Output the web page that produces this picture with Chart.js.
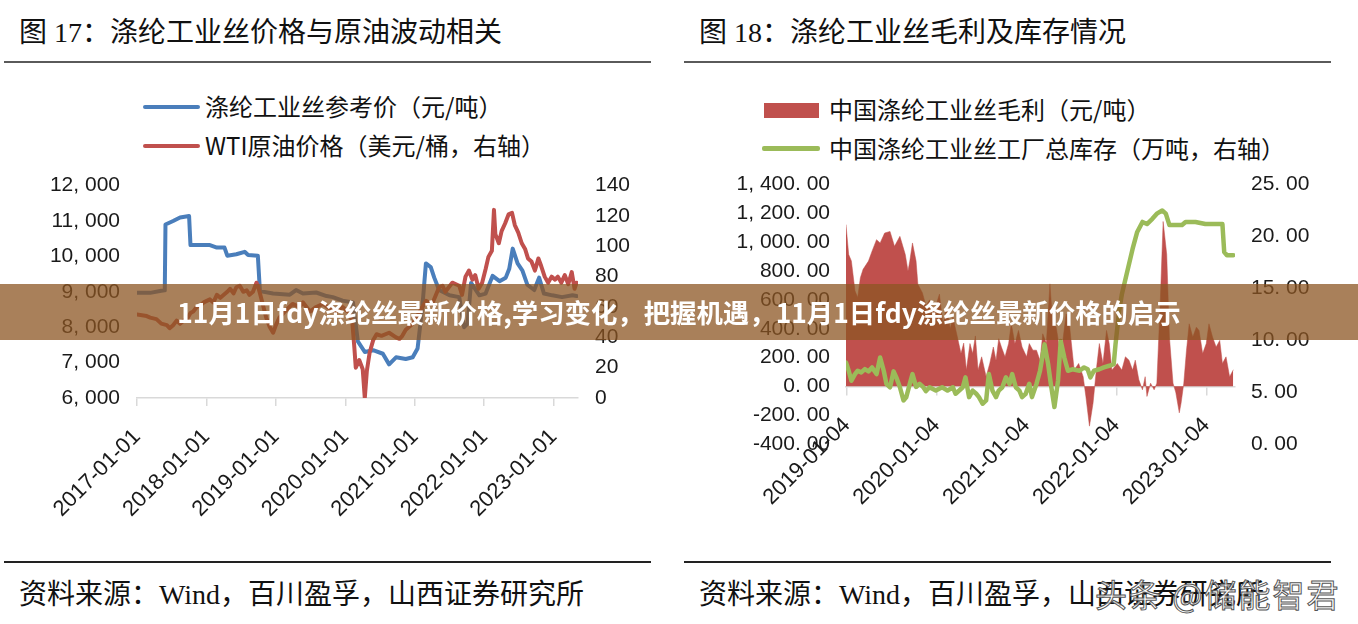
<!DOCTYPE html>
<html lang="zh-CN">
<head>
<meta charset="utf-8">
<title>涤纶工业丝价格与库存</title>
<script src="https://cdn.jsdelivr.net/npm/chart.js"></script>
<style>
    html, body { margin: 0; padding: 0; background: #fff; }
    body { position: relative; width: 1358px; height: 624px; overflow: hidden;
           font-family: "Liberation Serif", "Noto Sans CJK SC", serif; color: #111; }
    .abs { position: absolute; white-space: nowrap; }
    .title { font-size: 28px; line-height: 28px; top: 19px; }
    .rule { height: 2px; background: #5a5a5a; }
    .rule.bottom { background: #222; }
    .legend { font-family: "Noto Sans CJK SC", sans-serif; font-size: 24px; line-height: 24px; color: #111; }
    .footer { font-size: 28px; line-height: 28px; top: 581px; }
    canvas { position: absolute; }
    .banner { left: 0; top: 284px; width: 1358px; height: 56px; background: rgba(140, 85, 35, 0.75);
              color: #fff; text-align: center; line-height: 56px;
              font-family: "Noto Sans CJK SC", sans-serif; font-weight: 700; font-size: 26.4px; }
    .wm { left: 1095px; top: 577px; font-family: "Noto Sans CJK SC", sans-serif; font-size: 32px; line-height: 32px;
          letter-spacing: 2px; color: rgba(255, 255, 255, 0.8); -webkit-text-stroke: 1px #555; }
</style>
</head>
<body>

<!-- left panel -->
<div class="abs title" style="left:19px;">图 17：涤纶工业丝价格与原油波动相关</div>
<div class="abs rule" style="left:4px; top:61px; width:647px;"></div>
<div class="abs" style="left:143px; top:105px; width:57px; height:4px; background:#4A7EBB; border-radius:2px;"></div>
<div class="abs legend" style="left:205px; top:94px;">涤纶工业丝参考价（元/吨）</div>
<div class="abs" style="left:143px; top:144px; width:57px; height:4px; background:#C0504D; border-radius:2px;"></div>
<div class="abs legend" style="left:205px; top:133px;">WTI原油价格（美元/桶，右轴）</div>
<canvas id="price-chart" width="620" height="404" style="left:30px; top:156px;"></canvas>
<div class="abs rule bottom" style="left:4px; top:561px; width:647px;"></div>
<div class="abs footer" style="left:19px;">资料来源：Wind，百川盈孚，山西证券研究所</div>

<!-- right panel -->
<div class="abs title" style="left:699px;">图 18：涤纶工业丝毛利及库存情况</div>
<div class="abs rule" style="left:684px; top:61px; width:647px;"></div>
<div class="abs" style="left:764px; top:103px; width:55px; height:15px; background:#C0504D;"></div>
<div class="abs legend" style="left:829px; top:97px;">中国涤纶工业丝毛利（元/吨）</div>
<div class="abs" style="left:762px; top:146px; width:58px; height:5px; background:#9BBB59; border-radius:2px;"></div>
<div class="abs legend" style="left:829px; top:136px;">中国涤纶工业丝工厂总库存（万吨，右轴）</div>
<canvas id="stock-chart" width="650" height="384" style="left:690px; top:156px;"></canvas>
<div class="abs rule bottom" style="left:684px; top:561px; width:647px;"></div>
<div class="abs footer" style="left:699px;">资料来源：Wind，百川盈孚，山西证券研究所</div>
<div class="abs wm">头条 @储能智君</div>

<div class="abs banner">11月1日fdy涤纶丝最新价格,学习变化，把握机遇，11月1日fdy涤纶丝最新价格的启示</div>

<script>
    "use strict";

    // Fig 17 - polyester industrial yarn price (yuan/t) vs WTI (usd/bbl)
    const priceYears = [
        2017.00, 2017.19, 2017.35, 2017.40, 2017.41, 2017.52, 2017.62, 2017.75, 2017.77, 2018.05,
        2018.15, 2018.26, 2018.30, 2018.43, 2018.55, 2018.60, 2018.74, 2018.77, 2018.96, 2019.20,
        2019.29, 2019.39, 2019.58, 2019.73, 2019.82, 2019.96, 2020.11, 2020.18, 2020.28, 2020.40,
        2020.54, 2020.63, 2020.73, 2020.87, 2020.97, 2021.04, 2021.11, 2021.16, 2021.23, 2021.28,
        2021.35, 2021.50, 2021.64, 2021.71, 2021.76, 2021.81, 2021.93, 2022.02, 2022.12, 2022.22,
        2022.31, 2022.36, 2022.41, 2022.48, 2022.55, 2022.62, 2022.72, 2022.79, 2022.86, 2022.98,
        2023.12, 2023.27, 2023.33
    ];
    const priceValues = [
        8970, 8970, 9030, 9040, 10900, 11000, 11100, 11140, 10320, 10320,
        10250, 10250, 10020, 10060, 10130, 10040, 10020, 9020, 8950, 8920,
        9050, 8950, 8980, 8880, 8850, 8750, 8700, 7600, 7300, 7350,
        7250, 6950, 7150, 7100, 7150, 7400, 8600, 9800, 9700, 9400,
        9050, 8900, 8850, 8000, 8100, 9250, 8900, 8950, 9450, 9300,
        9400, 9650, 10220, 9800, 9600, 9200, 9050, 9400, 8950, 8900,
        8850, 8900, 8880
    ];
    const wtiYears = [
        2017.00, 2017.14, 2017.19, 2017.28, 2017.35, 2017.43, 2017.47, 2017.52, 2017.57, 2017.62,
        2017.67, 2017.72, 2017.77, 2017.81, 2017.86, 2017.91, 2017.96, 2018.05, 2018.10, 2018.15,
        2018.20, 2018.30, 2018.34, 2018.39, 2018.43, 2018.48, 2018.53, 2018.58, 2018.62, 2018.67,
        2018.72, 2018.74, 2018.77, 2018.81, 2018.86, 2018.91, 2018.96, 2019.00, 2019.05, 2019.15,
        2019.24, 2019.34, 2019.39, 2019.49, 2019.58, 2019.68, 2019.77, 2019.87, 2019.96, 2020.06,
        2020.10, 2020.13, 2020.15, 2020.20, 2020.25, 2020.28, 2020.31, 2020.35, 2020.40, 2020.45,
        2020.52, 2020.63, 2020.73, 2020.78, 2020.82, 2020.87, 2020.97, 2021.06, 2021.16, 2021.25,
        2021.35, 2021.40, 2021.44, 2021.54, 2021.64, 2021.68, 2021.73, 2021.78, 2021.83, 2021.87,
        2021.92, 2021.97, 2022.02, 2022.06, 2022.11, 2022.14, 2022.16, 2022.21, 2022.25, 2022.30,
        2022.35, 2022.40, 2022.44, 2022.49, 2022.54, 2022.59, 2022.63, 2022.68, 2022.73, 2022.78,
        2022.82, 2022.87, 2022.92, 2022.97, 2023.02, 2023.06, 2023.11, 2023.16, 2023.21, 2023.26,
        2023.30, 2023.33
    ];
    const wtiValues = [
        55, 54, 53, 52, 49, 48, 46, 48, 51, 49,
        51, 52, 56, 57, 60, 61, 63, 65, 63, 68,
        66, 70, 72, 69, 73, 74, 70, 71, 68, 70,
        76, 74, 69, 62, 53, 47, 43, 48, 53, 58,
        62, 60, 63, 57, 60, 62, 59, 57, 60, 56,
        50, 33, 20, 25, 19, 0, 18, 30, 38, 42,
        41, 43, 40, 39, 41, 45, 49, 56, 64, 62,
        73, 74, 70, 76, 74, 68, 80, 84, 78, 81,
        72, 76, 85, 93, 97, 124, 108, 102, 110, 115,
        121, 122, 114, 109, 102, 98, 92, 90, 84, 92,
        87, 80, 76, 80, 78, 80, 76, 81, 75, 83,
        72, 76
    ];
    const priceTicks = [2017, 2018, 2019, 2020, 2021, 2022, 2023];

    // Fig 18 - gross profit (yuan/t, area) and factory stock (10k t, right axis)
    const profitYears = [
        2019.00, 2019.03, 2019.06, 2019.10, 2019.13, 2019.16, 2019.19, 2019.25, 2019.29, 2019.34,
        2019.38, 2019.43, 2019.49, 2019.54, 2019.60, 2019.66, 2019.69, 2019.71, 2019.74, 2019.78,
        2019.80, 2019.85, 2019.89, 2019.93, 2019.98, 2020.04, 2020.08, 2020.12, 2020.16, 2020.19,
        2020.24, 2020.28, 2020.31, 2020.34, 2020.38, 2020.41, 2020.44, 2020.47, 2020.51, 2020.56,
        2020.60, 2020.64, 2020.67, 2020.70, 2020.73, 2020.77, 2020.81, 2020.84, 2020.88, 2020.92,
        2020.96, 2021.01, 2021.04, 2021.08, 2021.12, 2021.16, 2021.19, 2021.23, 2021.27, 2021.30,
        2021.34, 2021.38, 2021.41, 2021.45, 2021.49, 2021.54, 2021.59, 2021.64, 2021.67, 2021.71,
        2021.75, 2021.79, 2021.82, 2021.86, 2021.90, 2021.93, 2021.96, 2022.02, 2022.07, 2022.11,
        2022.15, 2022.19, 2022.22, 2022.26, 2022.30, 2022.33, 2022.35, 2022.39, 2022.43, 2022.46,
        2022.50, 2022.53, 2022.57, 2022.60, 2022.64, 2022.67, 2022.71, 2022.73, 2022.76, 2022.79,
        2022.82, 2022.86, 2022.90, 2022.93, 2022.97, 2023.01, 2023.04, 2023.08, 2023.12, 2023.16,
        2023.19, 2023.23, 2023.27, 2023.31
    ];
    const profitValues = [
        1120, 915, 870, 663, 617, 754, 812, 869, 938, 1018,
        995, 1064, 1075, 972, 1041, 915, 800, 869, 995, 869,
        709, 650, 560, 600, 520, 640, 430, 560, 400, 480,
        342, 228, 300, 113, 297, 228, 350, 113, 205, 67,
        159, 273, 180, 331, 273, 205, 297, 434, 297, 388,
        273, 205, 297, 251, 251, 180, 365, 300, 711, 450,
        411, 250, 297, 503, 411, 113, 159, 67, -70, -276,
        -116, 136, 297, 159, 388, 297, 113, 159, 113, 205,
        182, 113, 182, 45, -24, 67, -70, 22, -24, 22,
        617, 1144, 915, 342, 22, -40, -184, -116, 22, 251,
        434, 342, 411, 388, 228, 297, 434, 342, 273, 319,
        159, 205, 67, 113
    ];
    const stockYears = [
        2019.00, 2019.03, 2019.06, 2019.10, 2019.13, 2019.17, 2019.21, 2019.25, 2019.29, 2019.34,
        2019.38, 2019.42, 2019.45, 2019.49, 2019.53, 2019.56, 2019.60, 2019.64, 2019.67, 2019.71,
        2019.74, 2019.78, 2019.82, 2019.86, 2019.89, 2019.93, 2020.00, 2020.07, 2020.13, 2020.19,
        2020.22, 2020.30, 2020.33, 2020.37, 2020.41, 2020.45, 2020.48, 2020.52, 2020.56, 2020.59,
        2020.63, 2020.67, 2020.70, 2020.74, 2020.78, 2020.82, 2020.85, 2020.89, 2020.93, 2020.96,
        2021.00, 2021.04, 2021.07, 2021.12, 2021.16, 2021.21, 2021.25, 2021.28, 2021.32, 2021.36,
        2021.39, 2021.43, 2021.47, 2021.52, 2021.60, 2021.65, 2021.69, 2021.72, 2021.76, 2021.82,
        2021.87, 2021.93, 2021.98, 2022.00, 2022.04, 2022.07, 2022.13, 2022.19, 2022.24, 2022.30,
        2022.35, 2022.41, 2022.46, 2022.52, 2022.56, 2022.60, 2022.67, 2022.74, 2022.78, 2022.89,
        2023.00, 2023.11, 2023.19, 2023.21, 2023.24, 2023.31
    ];
    const stockValues = [
        7.85, 7.06, 6.10, 6.74, 7.06, 6.90, 7.22, 7.00, 7.38, 6.74,
        8.33, 7.06, 5.79, 5.47, 7.00, 6.42, 5.47, 4.20, 4.50, 5.79,
        6.74, 5.50, 5.80, 5.47, 5.10, 5.47, 5.15, 5.47, 5.15, 5.47,
        4.84, 5.47, 6.42, 4.52, 5.15, 4.84, 4.52, 3.88, 4.20, 6.74,
        5.15, 4.52, 5.15, 5.47, 6.42, 5.79, 6.74, 5.47, 5.15, 4.52,
        4.84, 5.80, 4.52, 5.79, 7.06, 9.60, 7.70, 5.79, 3.56, 6.10,
        9.92, 8.33, 7.06, 7.20, 7.06, 7.38, 7.20, 6.42, 7.06, 7.20,
        7.38, 7.54, 7.70, 9.60, 12.8, 14.4, 16.6, 18.8, 20.4, 21.4,
        21.2, 21.7, 22.2, 22.5, 22.2, 21.1, 21.1, 21.1, 21.4, 21.4,
        21.2, 21.2, 21.2, 18.5, 18.2, 18.2
    ];
    const stockTicks = [2019.01, 2020.01, 2021.01, 2022.01, 2023.01];

    const tickFont = { family: "'Liberation Sans', Arial, sans-serif", size: 21 };
    const dateFont = { family: "'Liberation Sans', Arial, sans-serif", size: 22 };
    const axisGrey = '#d9d9d9';

    function toPoints(xs, ys) {
        return xs.map(function (x, i) { return { x: x, y: ys[i] }; });
    }
    // "12,000" -> "12, 000" like the wide punctuation in the source
    function fmtInt(v) {
        return v.toLocaleString('en-US').replace(/,/g, ', ');
    }
    function fmtFixed(v) {
        return v.toLocaleString('en-US', { minimumFractionDigits: 2, maximumFractionDigits: 2 })
            .replace(/([,.])/g, '$1 ');
    }
    function fixWidth(w) {
        return function (scale) { scale.width = w; };
    }
    function fixTicks(list) {
        return function (scale) { scale.ticks = list.map(function (v) { return { value: v }; }); };
    }
    const hiddenGrid = { display: false, drawTicks: false };

    // Left chart
    new Chart(document.getElementById('price-chart').getContext('2d'), {
        type: 'line',
        data: {
            datasets: [{
                label: 'WTI原油价格（美元/桶，右轴）',
                data: toPoints(wtiYears, wtiValues),
                yAxisID: 'y1',
                borderColor: '#C0504D',
                borderWidth: 4,
                order: 0
            }, {
                label: '涤纶工业丝参考价（元/吨）',
                data: toPoints(priceYears, priceValues),
                yAxisID: 'y',
                borderColor: '#4A7EBB',
                borderWidth: 4,
                order: 1
            }]
        },
        options: {
            responsive: false,
            animation: false,
            layout: { padding: { top: 15, left: 0, right: 0, bottom: 0 } },
            elements: {
                point: { radius: 0 },
                line: { tension: 0, borderJoinStyle: 'round', borderCapStyle: 'round', fill: false }
            },
            plugins: { legend: { display: false }, tooltip: { enabled: false } },
            scales: {
                x: {
                    type: 'linear',
                    min: 2017,
                    max: 2023.35,
                    afterBuildTicks: fixTicks(priceTicks),
                    afterFit: function (scale) { scale.height = 162; },
                    grid: { drawOnChartArea: false, drawTicks: true, tickLength: 8, color: axisGrey, lineWidth: 1.5 },
                    border: { display: true, color: axisGrey, width: 1.5 },
                    ticks: {
                        autoSkip: false, minRotation: 45, maxRotation: 45, padding: 18,
                        font: dateFont, color: '#1a1a1a',
                        callback: function (v) { return v + '-01-01'; }
                    }
                },
                y: {
                    position: 'left',
                    min: 6000, max: 12000,
                    afterFit: fixWidth(107),
                    grid: hiddenGrid,
                    border: { display: false },
                    ticks: { stepSize: 1000, padding: 17, font: tickFont, color: '#1a1a1a', callback: fmtInt }
                },
                y1: {
                    position: 'right',
                    min: 0, max: 140,
                    afterFit: fixWidth(72),
                    grid: hiddenGrid,
                    border: { display: false },
                    ticks: { stepSize: 20, padding: 17, font: tickFont, color: '#1a1a1a' }
                }
            }
        }
    });

    // Right chart
    new Chart(document.getElementById('stock-chart').getContext('2d'), {
        type: 'line',
        data: {
            datasets: [{
                label: '中国涤纶工业丝工厂总库存（万吨，右轴）',
                data: toPoints(stockYears, stockValues),
                yAxisID: 'y1',
                borderColor: '#9BBB59',
                borderWidth: 4.5,
                fill: false,
                order: 0
            }, {
                label: '中国涤纶工业丝毛利（元/吨）',
                data: toPoints(profitYears, profitValues),
                yAxisID: 'y',
                borderColor: '#C0504D',
                backgroundColor: '#C0504D',
                borderWidth: 0.5,
                fill: 'origin',
                order: 1
            }]
        },
        options: {
            responsive: false,
            animation: false,
            layout: { padding: { top: 14, left: 0, right: 0, bottom: 96 } },
            elements: {
                point: { radius: 0 },
                line: { tension: 0, borderJoinStyle: 'round', borderCapStyle: 'round' }
            },
            plugins: { legend: { display: false }, tooltip: { enabled: false } },
            scales: {
                x: {
                    type: 'linear',
                    axis: 'x',
                    position: { y: 0 },
                    min: 2019.0,
                    max: 2023.33,
                    afterBuildTicks: fixTicks(stockTicks),
                    grid: { drawOnChartArea: false, drawTicks: true, tickLength: 8, color: axisGrey, lineWidth: 1.5 },
                    border: { display: true, color: axisGrey, width: 1.5 },
                    ticks: {
                        autoSkip: false, minRotation: 45, maxRotation: 45, padding: 18,
                        font: dateFont, color: '#1a1a1a',
                        callback: function (v) { return Math.floor(v) + '-01-04'; }
                    }
                },
                y: {
                    position: 'left',
                    min: -400, max: 1400,
                    afterFit: fixWidth(156),
                    grid: hiddenGrid,
                    border: { display: false },
                    ticks: { stepSize: 200, padding: 16, font: tickFont, color: '#1a1a1a', callback: fmtFixed }
                },
                y1: {
                    position: 'right',
                    min: 0, max: 25,
                    afterFit: fixWidth(105),
                    grid: hiddenGrid,
                    border: { display: false },
                    ticks: { stepSize: 5, padding: 16, font: tickFont, color: '#1a1a1a', callback: fmtFixed }
                }
            }
        }
    });
</script>
</body>
</html>
